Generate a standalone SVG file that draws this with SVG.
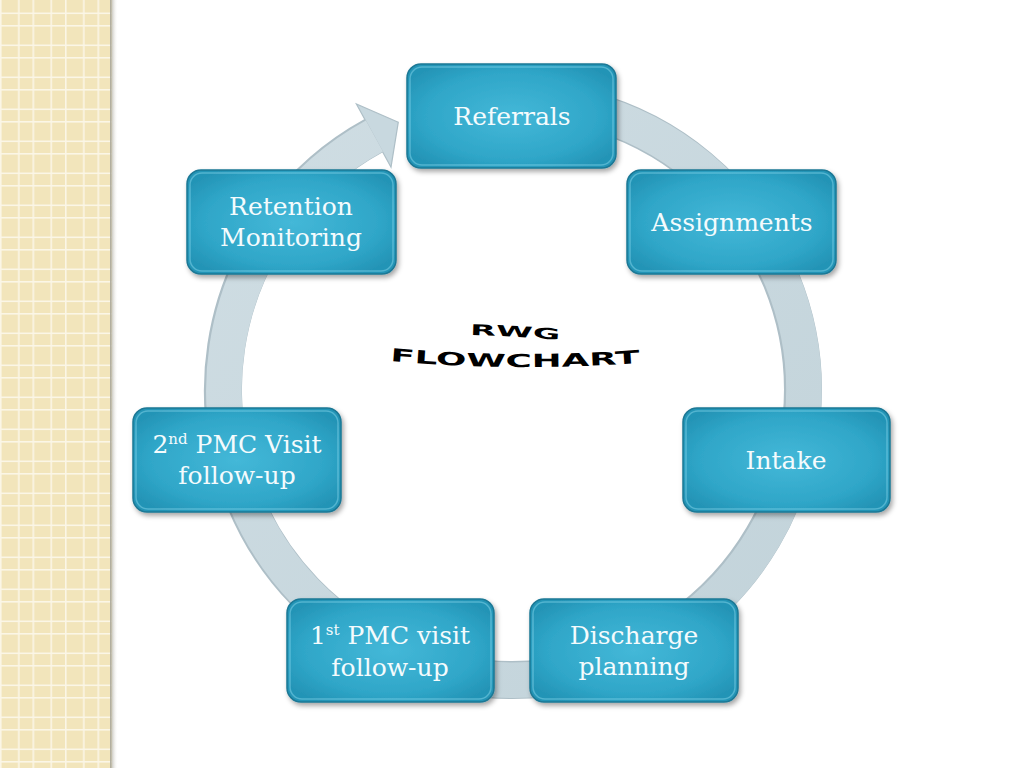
<svg xmlns="http://www.w3.org/2000/svg" width="1024" height="768" viewBox="0 0 1024 768">
<defs>
<pattern id="grid" x="0" y="0" width="32.5" height="32" patternUnits="userSpaceOnUse">
<rect width="32.5" height="32" fill="#f2e5bb"/>
<rect x="0" y="0" width="1.6" height="32" fill="#fbf6e6"/>
<rect x="18" y="0" width="1.6" height="32" fill="#fbf6e6"/>
<rect x="0" y="12.5" width="32.5" height="1.6" fill="#fbf6e6"/>
<rect x="0" y="25" width="32.5" height="1.6" fill="#fbf6e6"/>
</pattern>
<linearGradient id="sideShadow" x1="0" y1="0" x2="1" y2="0">
<stop offset="0" stop-color="#a8a596"/>
<stop offset="1" stop-color="#ffffff" stop-opacity="0"/>
</linearGradient>
<radialGradient id="boxFill" cx="0.5" cy="0.5" r="0.6">
<stop offset="0" stop-color="#44b8d8"/>
<stop offset="0.7" stop-color="#2fa6c8"/>
<stop offset="1" stop-color="#2494b6"/>
</radialGradient>
<linearGradient id="ringGrad" x1="0" y1="0" x2="1" y2="1">
<stop offset="0" stop-color="#cfdde3"/>
<stop offset="1" stop-color="#c2d3da"/>
</linearGradient>
<filter id="shadow" x="-10%" y="-10%" width="125%" height="130%">
<feDropShadow dx="2" dy="3" stdDeviation="2.5" flood-color="#000" flood-opacity="0.35"/>
</filter>
<style>
.box{fill:url(#boxFill);stroke:#1b7895;stroke-width:1.5;filter:url(#shadow)}
.bevel{fill:none;stroke:#8fdcef;stroke-opacity:0.45;stroke-width:1.5}
.lbl{font-family:"DejaVu Serif","Liberation Serif",serif;font-size:25px;fill:#f4fbfd;text-anchor:middle}
.sup{font-size:15px}
.wa{font-family:"DejaVu Sans","Liberation Sans",sans-serif;font-weight:bold;fill:#000}
</style>
</defs>
<rect width="1024" height="768" fill="#ffffff"/>
<g id="sidebar">
<rect x="0" y="0" width="112" height="768" fill="url(#grid)"/>
<rect x="110" y="0" width="8" height="768" fill="url(#sideShadow)"/>
</g>
<g id="connectors">
<path d="M 588.1 109.9 A 290 290 0 1 1 373.7 135.6" fill="none" stroke="#aebfc7" stroke-width="38"/>
<polygon points="398.3,122.2 356.4,104 391,167.2" fill="#c8d8df" stroke="#aebfc7" stroke-width="1.2" stroke-linejoin="miter"/>
<path d="M 588.1 109.9 A 290 290 0 1 1 374.4 136" fill="none" stroke="url(#ringGrad)" stroke-width="35.5"/>
</g>
<g id="title">
<path id="p1" d="M 470 335 Q 515 336 560 340" fill="none"/>
<path id="p2" d="M 390 361 Q 515 372 640 363" fill="none"/>
<text class="wa" font-size="15"><textPath href="#p1" textLength="90" lengthAdjust="spacingAndGlyphs">RWG</textPath></text>
<text class="wa" font-size="18"><textPath href="#p2" textLength="250" lengthAdjust="spacingAndGlyphs">FLOWCHART</textPath></text>
</g>
<g id="referrals">
<rect class="box" x="407" y="64" width="209" height="104" rx="14"/>
<rect class="bevel" x="410" y="67" width="203" height="98" rx="12"/>
<text class="lbl" x="512" y="125">Referrals</text>
</g>
<g id="assignments">
<rect class="box" x="627" y="170" width="209" height="104" rx="14"/>
<rect class="bevel" x="630" y="173" width="203" height="98" rx="12"/>
<text class="lbl" x="732" y="231">Assignments</text>
</g>
<g id="intake">
<rect class="box" x="683" y="408" width="207" height="104" rx="14"/>
<rect class="bevel" x="686" y="411" width="201" height="98" rx="12"/>
<text class="lbl" x="786" y="469">Intake</text>
</g>
<g id="discharge">
<rect class="box" x="530" y="599" width="208" height="103" rx="14"/>
<rect class="bevel" x="533" y="602" width="202" height="97" rx="12"/>
<text class="lbl" x="634" y="644">Discharge</text>
<text class="lbl" x="634" y="675">planning</text>
</g>
<g id="pmc1">
<rect class="box" x="287" y="599" width="207" height="103" rx="14"/>
<rect class="bevel" x="290" y="602" width="201" height="97" rx="12"/>
<text class="lbl" x="390" y="644">1<tspan class="sup" dy="-9">st</tspan><tspan dy="9"> PMC visit</tspan></text>
<text class="lbl" x="390" y="676">follow-up</text>
</g>
<g id="pmc2">
<rect class="box" x="133" y="408" width="208" height="104" rx="14"/>
<rect class="bevel" x="136" y="411" width="202" height="98" rx="12"/>
<text class="lbl" x="237" y="453">2<tspan class="sup" dy="-9">nd</tspan><tspan dy="9"> PMC Visit</tspan></text>
<text class="lbl" x="237" y="484">follow-up</text>
</g>
<g id="retention">
<rect class="box" x="187" y="170" width="209" height="104" rx="14"/>
<rect class="bevel" x="190" y="173" width="203" height="98" rx="12"/>
<text class="lbl" x="291" y="215">Retention</text>
<text class="lbl" x="291" y="246">Monitoring</text>
</g>
</svg>
